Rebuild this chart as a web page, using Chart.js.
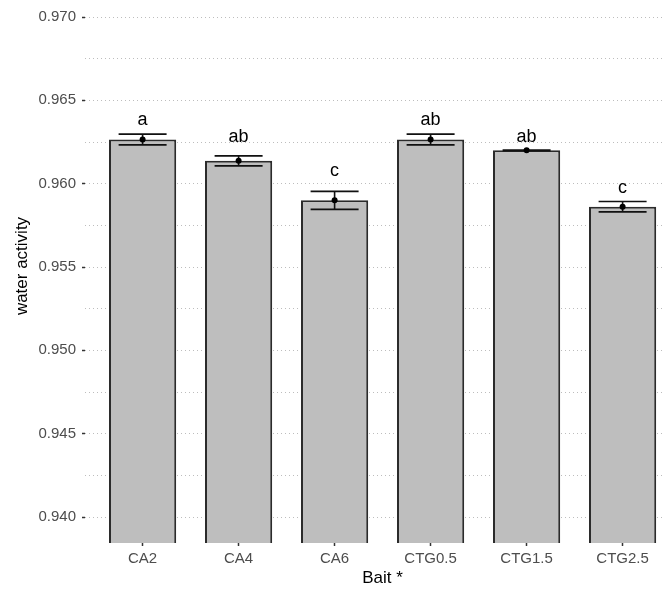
<!DOCTYPE html>
<html>
<head>
<meta charset="utf-8">
<script src="https://cdn.jsdelivr.net/npm/chart.js@4.4.1/dist/chart.umd.min.js"></script>
<style>
  html, body { margin: 0; padding: 0; background: #fff; overflow: hidden; }
  body { width: 662px; height: 589px; position: relative; }
  #chart { position: absolute; left: 0; top: -16px; }
</style>
</head>
<body>
<canvas id="chart" width="690" height="605"></canvas>
<script>
const baits = ['CA2', 'CA4', 'CA6', 'CTG0.5', 'CTG1.5', 'CTG2.5']
const means = [0.96265, 0.96137, 0.95900, 0.96265, 0.96200, 0.95862]
const errors = [0.00032, 0.00030, 0.00054, 0.00032, 0.00002, 0.00031]
const letters = ['a', 'ab', 'c', 'ab', 'ab', 'c']
const letterAt = [0.96380, 0.96282, 0.96078, 0.96380, 0.96282, 0.95974]
const yTickValues = [0.940, 0.945, 0.950, 0.955, 0.960, 0.965, 0.970]
const yTickLabels = ['0.940', '0.945', '0.950', '0.955', '0.960', '0.965', '0.970']
const yMin = 0.93844
const yMax = 0.97168

Chart.defaults.font.family = 'Arial, "Liberation Sans", sans-serif'

const tickGray = '#4D4D4D'

// major ticks get a label and a tick mark, the half-way ones only a grid line
const yGridValues = []
yTickValues.forEach((v, i) => {
    yGridValues.push(v)
    if (i < yTickValues.length - 1) yGridValues.push((v + yTickValues[i + 1]) / 2)
})

const majorIndex = (v) => yTickValues.findIndex(t => Math.abs(t - v) < 1e-7)

const errorBars = {
    id: 'errorBars',
    afterDatasetDraw(chart, args) {
        if (args.meta.type !== 'bar') return
        const {ctx, scales: {x, y}} = chart
        ctx.save()
        ctx.strokeStyle = '#111'
        ctx.lineWidth = 1.6
        means.forEach((m, i) => {
            const top = y.getPixelForValue(m + errors[i])
            const bottom = y.getPixelForValue(m - errors[i])
            const left = x.getPixelForValue(i - 0.25)
            const right = x.getPixelForValue(i + 0.25)
            const cx = x.getPixelForValue(i)
            ctx.beginPath()
            ctx.moveTo(left, top)
            ctx.lineTo(right, top)
            ctx.moveTo(left, bottom)
            ctx.lineTo(right, bottom)
            ctx.moveTo(cx, top)
            ctx.lineTo(cx, bottom)
            ctx.stroke()
        })
        ctx.restore()
    },
    afterDatasetsDraw(chart) {
        const {ctx, scales: {x, y}} = chart
        ctx.save()
        ctx.fillStyle = '#000'
        ctx.font = '18px Arial, "Liberation Sans", sans-serif'
        ctx.textAlign = 'center'
        ctx.textBaseline = 'middle'
        letters.forEach((l, i) => {
            ctx.fillText(l, x.getPixelForValue(i), y.getPixelForValue(letterAt[i]))
        })
        ctx.restore()
    }
}

new Chart(document.getElementById('chart'), {
    type: 'bar',
    data: {
        datasets: [{
            type: 'bar',
            order: 2,
            data: means.map((m, i) => ({x: i, y: m})),
            base: yMin,
            clip: 0,
            backgroundColor: '#BEBEBE',
            borderColor: '#2B2B2B',
            borderWidth: 2,
            barPercentage: 0.7,
            categoryPercentage: 1
        }, {
            type: 'line',
            order: 1,
            data: means.map((m, i) => ({x: i, y: m})),
            showLine: false,
            pointRadius: 3,
            pointBackgroundColor: '#000',
            pointBorderColor: '#000',
            pointBorderWidth: 0
        }]
    },
    options: {
        responsive: false,
        animation: false,
        layout: {padding: {top: 5, right: 9.8, left: 0, bottom: 0}},
        plugins: {
            legend: {display: false},
            tooltip: {enabled: false}
        },
        scales: {
            x: {
                type: 'linear',
                offset: false,
                min: -0.6,
                max: 5.6,
                afterBuildTicks: (s) => { s.ticks = baits.map((b, i) => ({value: i})) },
                afterFit: (s) => { s.height = 46; s.paddingLeft = 0; s.paddingRight = 0 },
                ticks: {
                    callback: (v) => baits[v],
                    color: tickGray,
                    font: {size: 15},
                    padding: 4,
                    maxRotation: 0,
                    autoSkip: false
                },
                grid: {
                    display: true,
                    offset: false,
                    drawOnChartArea: false,
                    tickLength: 3,
                    tickColor: '#333',
                    tickWidth: 1.5
                },
                border: {display: false},
                title: {
                    display: true,
                    text: 'Bait *',
                    color: '#000',
                    font: {size: 17},
                    padding: {top: 0, bottom: 0}
                }
            },
            y: {
                type: 'linear',
                min: yMin,
                max: yMax,
                afterBuildTicks: (s) => { s.ticks = yGridValues.map(v => ({value: v})) },
                afterFit: (s) => { s.width = 85; s.paddingTop = 0; s.paddingBottom = 0 },
                ticks: {
                    callback: (v) => {
                        const k = majorIndex(v)
                        return k >= 0 ? yTickLabels[k] : ''
                    },
                    color: tickGray,
                    font: {size: 15},
                    padding: 6,
                    autoSkip: false
                },
                grid: {
                    color: '#BDBDBD',
                    lineWidth: 1,
                    tickLength: 3,
                    tickWidth: 1.5,
                    tickColor: (ctx) => ctx.tick && majorIndex(ctx.tick.value) >= 0 ? '#333' : 'rgba(0,0,0,0)'
                },
                border: {display: false, dash: [1, 3]},
                title: {
                    display: true,
                    text: 'water activity',
                    color: '#000',
                    font: {size: 17},
                    padding: {top: 12, bottom: 0}
                }
            }
        }
    },
    plugins: [errorBars]
})
</script>
</body>
</html>
